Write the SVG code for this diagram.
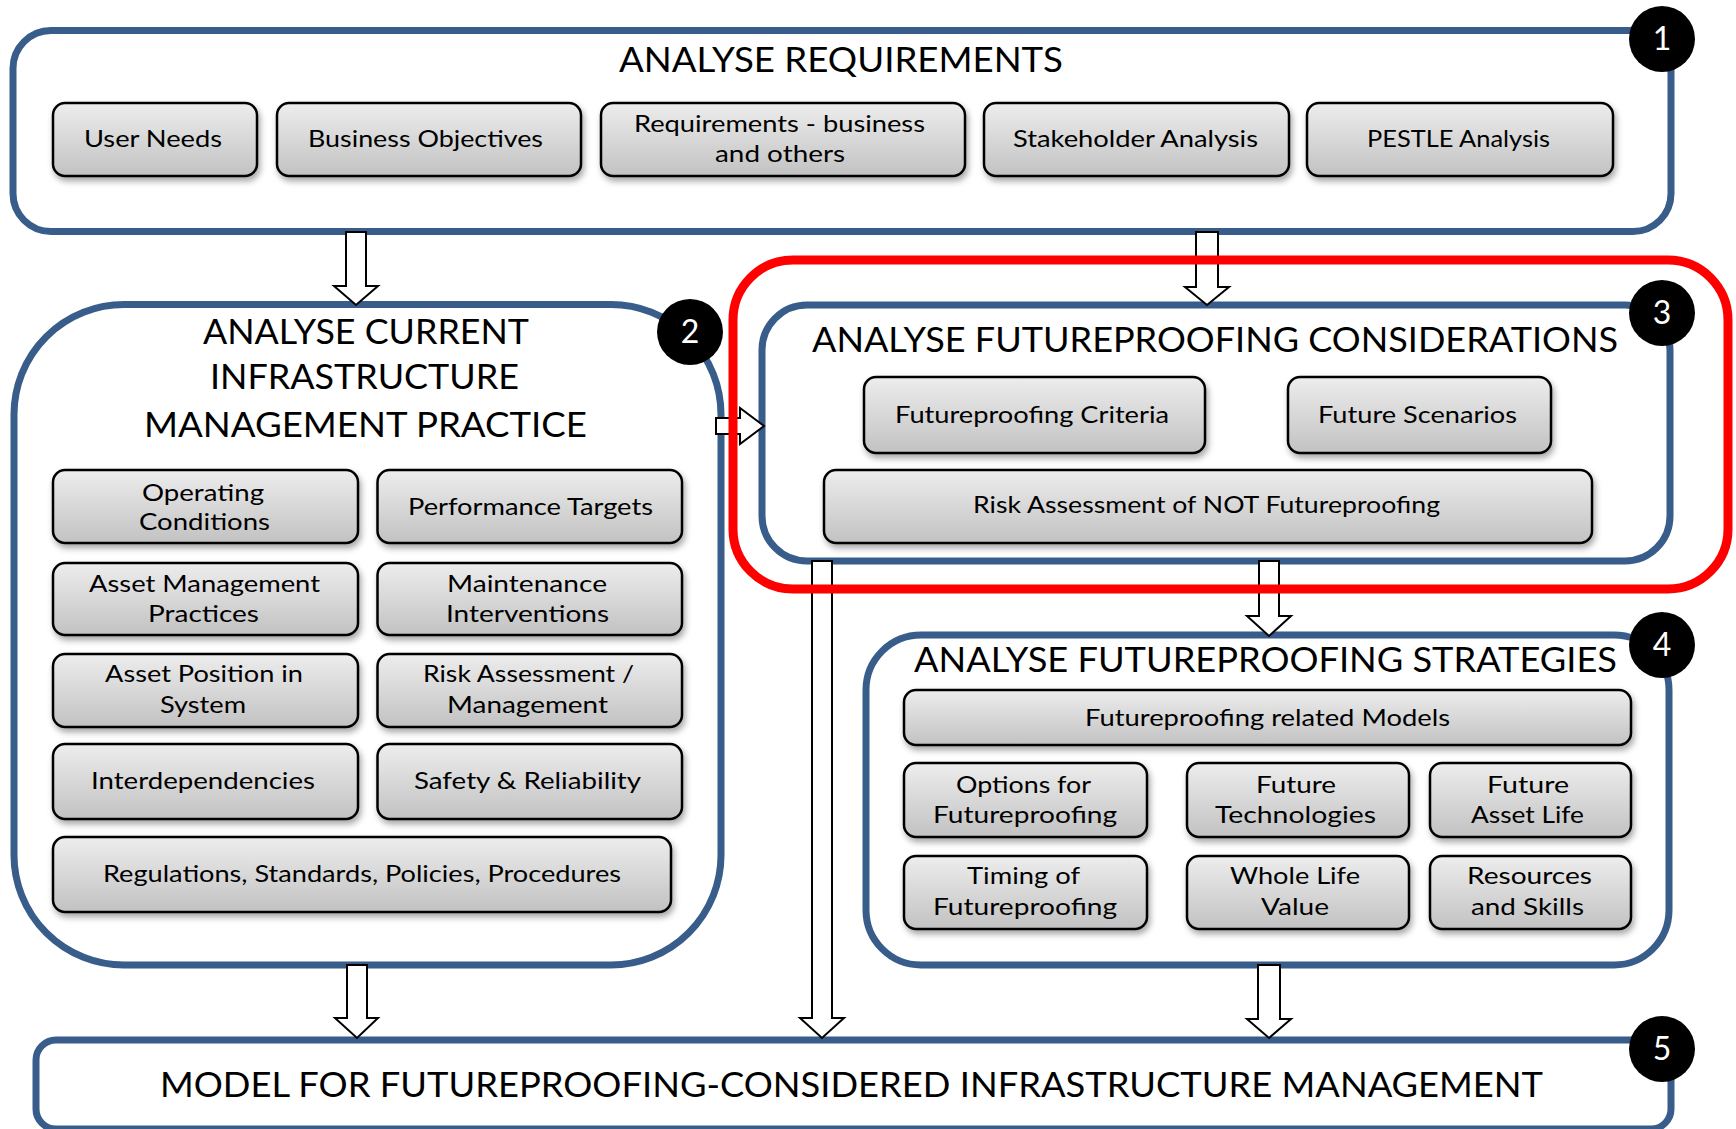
<svg xmlns="http://www.w3.org/2000/svg" width="1736" height="1129" viewBox="0 0 1736 1129">
  <defs>
    <linearGradient id="boxFill" x1="0" y1="0" x2="0" y2="1">
      <stop offset="0" stop-color="#ededed"/>
      <stop offset="1" stop-color="#c2c2c2"/>
    </linearGradient>
    <filter id="shadow" x="-10%" y="-20%" width="120%" height="160%">
      <feDropShadow dx="2" dy="4" stdDeviation="3" flood-color="#000" flood-opacity="0.35"/>
    </filter>
    <style>
      .panel { fill: #fff; stroke: #385d8a; stroke-width: 7; }
      .focus { fill: none; stroke: #ff0000; stroke-width: 9; }
      .box { fill: url(#boxFill); stroke: #000; stroke-width: 2.5; filter: url(#shadow); }
      .arrow { fill: #fff; stroke: #000; stroke-width: 2; stroke-linejoin: miter; }
      .badge { fill: #000; }
      .num { fill: #fff; font-family: Lato, "Liberation Sans", Arial, sans-serif; font-size: 32px; text-anchor: middle; }
      .title { fill: #000; font-family: Lato, "Liberation Sans", Arial, sans-serif; font-size: 35px; }
      .label { fill: #000; font-family: Lato, "Liberation Sans", Arial, sans-serif; font-size: 24px; }
    </style>
  </defs>

  <!-- stage containers -->
  <g id="stage1">
    <rect class="panel" x="13" y="30.5" width="1658" height="201" rx="38"/>
    <text class="title" x="619" y="72" textLength="444" lengthAdjust="spacingAndGlyphs">ANALYSE REQUIREMENTS</text>
  </g>
  <g id="stage2">
    <rect class="panel" x="14" y="304.5" width="707" height="660.5" rx="110"/>
    <text class="title" x="203" y="344" textLength="326" lengthAdjust="spacingAndGlyphs">ANALYSE CURRENT</text>
    <text class="title" x="210" y="389" textLength="309" lengthAdjust="spacingAndGlyphs">INFRASTRUCTURE</text>
    <text class="title" x="144" y="437" textLength="443" lengthAdjust="spacingAndGlyphs">MANAGEMENT PRACTICE</text>
  </g>
  <g id="stage3">
    <rect class="panel" x="762" y="305" width="908" height="256" rx="45"/>
    <text class="title" x="812" y="352" textLength="806" lengthAdjust="spacingAndGlyphs">ANALYSE FUTUREPROOFING CONSIDERATIONS</text>
  </g>
  <g id="stage4">
    <rect class="panel" x="866" y="635" width="803" height="330" rx="55"/>
    <text class="title" x="914" y="672" textLength="703" lengthAdjust="spacingAndGlyphs">ANALYSE FUTUREPROOFING STRATEGIES</text>
  </g>
  <g id="stage5">
    <rect class="panel" x="36" y="1040" width="1635" height="89" rx="20"/>
    <text class="title" x="160" y="1097" textLength="1383" lengthAdjust="spacingAndGlyphs">MODEL FOR FUTUREPROOFING-CONSIDERED INFRASTRUCTURE MANAGEMENT</text>
  </g>

  <!-- stage 1 items -->
  <g id="user-needs">
    <rect class="box" x="53" y="103" width="204" height="73" rx="12"/>
    <text class="label" x="84" y="147" textLength="138" lengthAdjust="spacingAndGlyphs">User Needs</text>
  </g>
  <g id="business-objectives">
    <rect class="box" x="277" y="103" width="304" height="73" rx="12"/>
    <text class="label" x="308" y="147" textLength="235" lengthAdjust="spacingAndGlyphs">Business Objectives</text>
  </g>
  <g id="requirements">
    <rect class="box" x="601" y="103" width="364" height="73" rx="12"/>
    <text class="label" x="634" y="132" textLength="291" lengthAdjust="spacingAndGlyphs">Requirements - business</text>
    <text class="label" x="715" y="162" textLength="130" lengthAdjust="spacingAndGlyphs">and others</text>
  </g>
  <g id="stakeholder-analysis">
    <rect class="box" x="984" y="103" width="305" height="73" rx="12"/>
    <text class="label" x="1013" y="147" textLength="245" lengthAdjust="spacingAndGlyphs">Stakeholder Analysis</text>
  </g>
  <g id="pestle-analysis">
    <rect class="box" x="1307" y="103" width="306" height="73" rx="12"/>
    <text class="label" x="1367" y="147" textLength="183" lengthAdjust="spacingAndGlyphs">PESTLE Analysis</text>
  </g>

  <!-- stage 2 items -->
  <g id="operating-conditions">
    <rect class="box" x="53" y="470" width="305" height="73" rx="12"/>
    <text class="label" x="142" y="501" textLength="122" lengthAdjust="spacingAndGlyphs">Operating</text>
    <text class="label" x="139" y="530" textLength="131" lengthAdjust="spacingAndGlyphs">Conditions</text>
  </g>
  <g id="performance-targets">
    <rect class="box" x="377.5" y="470" width="304.5" height="73" rx="12"/>
    <text class="label" x="408" y="515" textLength="245" lengthAdjust="spacingAndGlyphs">Performance Targets</text>
  </g>
  <g id="am-practices">
    <rect class="box" x="53" y="563" width="305" height="72" rx="12"/>
    <text class="label" x="89" y="592" textLength="231" lengthAdjust="spacingAndGlyphs">Asset Management</text>
    <text class="label" x="148" y="622" textLength="111" lengthAdjust="spacingAndGlyphs">Practices</text>
  </g>
  <g id="maintenance-interventions">
    <rect class="box" x="377.5" y="563" width="304.5" height="72" rx="12"/>
    <text class="label" x="447" y="592" textLength="160" lengthAdjust="spacingAndGlyphs">Maintenance</text>
    <text class="label" x="446" y="622" textLength="163" lengthAdjust="spacingAndGlyphs">Interventions</text>
  </g>
  <g id="asset-position">
    <rect class="box" x="53" y="654" width="305" height="73" rx="12"/>
    <text class="label" x="105" y="682" textLength="198" lengthAdjust="spacingAndGlyphs">Asset Position in</text>
    <text class="label" x="160" y="713" textLength="86" lengthAdjust="spacingAndGlyphs">System</text>
  </g>
  <g id="risk-management">
    <rect class="box" x="377.5" y="654" width="304.5" height="73" rx="12"/>
    <text class="label" x="423" y="682" textLength="211" lengthAdjust="spacingAndGlyphs">Risk Assessment /</text>
    <text class="label" x="447" y="713" textLength="161" lengthAdjust="spacingAndGlyphs">Management</text>
  </g>
  <g id="interdependencies">
    <rect class="box" x="53" y="744" width="305" height="75" rx="12"/>
    <text class="label" x="91" y="789" textLength="224" lengthAdjust="spacingAndGlyphs">Interdependencies</text>
  </g>
  <g id="safety-reliability">
    <rect class="box" x="377.5" y="744" width="304.5" height="75" rx="12"/>
    <text class="label" x="414" y="789" textLength="227" lengthAdjust="spacingAndGlyphs">Safety &amp; Reliability</text>
  </g>
  <g id="regulations">
    <rect class="box" x="53" y="837" width="618" height="75" rx="12"/>
    <text class="label" x="103" y="882" textLength="518" lengthAdjust="spacingAndGlyphs">Regulations, Standards, Policies, Procedures</text>
  </g>

  <!-- stage 3 items -->
  <g id="fp-criteria">
    <rect class="box" x="864" y="377" width="341" height="76" rx="12"/>
    <text class="label" x="895" y="423" textLength="274" lengthAdjust="spacingAndGlyphs">Futureproofing Criteria</text>
  </g>
  <g id="future-scenarios">
    <rect class="box" x="1288" y="377" width="263" height="76" rx="12"/>
    <text class="label" x="1318" y="423" textLength="199" lengthAdjust="spacingAndGlyphs">Future Scenarios</text>
  </g>
  <g id="risk-not-fp">
    <rect class="box" x="824" y="470" width="768" height="73" rx="12"/>
    <text class="label" x="973" y="513" textLength="467" lengthAdjust="spacingAndGlyphs">Risk Assessment of NOT Futureproofing</text>
  </g>

  <!-- stage 4 items -->
  <g id="fp-models">
    <rect class="box" x="904" y="690" width="727" height="55" rx="12"/>
    <text class="label" x="1085" y="726" textLength="365" lengthAdjust="spacingAndGlyphs">Futureproofing related Models</text>
  </g>
  <g id="fp-options">
    <rect class="box" x="904" y="763" width="243" height="74" rx="12"/>
    <text class="label" x="956" y="793" textLength="135" lengthAdjust="spacingAndGlyphs">Options for</text>
    <text class="label" x="933" y="823" textLength="184" lengthAdjust="spacingAndGlyphs">Futureproofing</text>
  </g>
  <g id="future-technologies">
    <rect class="box" x="1187" y="763" width="222" height="74" rx="12"/>
    <text class="label" x="1256" y="793" textLength="80" lengthAdjust="spacingAndGlyphs">Future</text>
    <text class="label" x="1215" y="823" textLength="161" lengthAdjust="spacingAndGlyphs">Technologies</text>
  </g>
  <g id="future-asset-life">
    <rect class="box" x="1430" y="763" width="201" height="74" rx="12"/>
    <text class="label" x="1487" y="793" textLength="82" lengthAdjust="spacingAndGlyphs">Future</text>
    <text class="label" x="1471" y="823" textLength="113" lengthAdjust="spacingAndGlyphs">Asset Life</text>
  </g>
  <g id="fp-timing">
    <rect class="box" x="904" y="856" width="243" height="73" rx="12"/>
    <text class="label" x="967" y="884" textLength="113" lengthAdjust="spacingAndGlyphs">Timing of</text>
    <text class="label" x="933" y="915" textLength="184" lengthAdjust="spacingAndGlyphs">Futureproofing</text>
  </g>
  <g id="whole-life-value">
    <rect class="box" x="1187" y="856" width="222" height="73" rx="12"/>
    <text class="label" x="1230" y="884" textLength="130" lengthAdjust="spacingAndGlyphs">Whole Life</text>
    <text class="label" x="1261" y="915" textLength="68" lengthAdjust="spacingAndGlyphs">Value</text>
  </g>
  <g id="resources-skills">
    <rect class="box" x="1430" y="856" width="201" height="73" rx="12"/>
    <text class="label" x="1467" y="884" textLength="125" lengthAdjust="spacingAndGlyphs">Resources</text>
    <text class="label" x="1471" y="915" textLength="113" lengthAdjust="spacingAndGlyphs">and Skills</text>
  </g>

  <!-- block-arrow connectors -->
  <g id="connectors">
    <polygon class="arrow" points="346,232 366,232 366,286 378,286 356,305 334,286 346,286"/>
    <polygon class="arrow" points="1196,232 1218,232 1218,287 1229,287 1207,305 1185,287 1196,287"/>
    <polygon class="arrow" points="716,418 740,418 740,408 764,426 740,444 740,434 716,434"/>
    <polygon class="arrow" points="1259,561 1279,561 1279,616 1291,616 1269,636 1247,616 1259,616"/>
    <polygon class="arrow" points="812,561 832,561 832,1018 844,1018 822,1038 800,1018 812,1018"/>
    <polygon class="arrow" points="347,965 367,965 367,1018 378,1018 357,1038 335,1018 347,1018"/>
    <polygon class="arrow" points="1258,965 1280,965 1280,1019 1291,1019 1269,1038 1247,1019 1258,1019"/>
  </g>

  <!-- highlight around stage 3 -->
  <rect id="focus-frame" class="focus" x="733" y="260" width="995" height="329" rx="60"/>

  <!-- stage numbers -->
  <g id="badges">
    <circle class="badge" cx="1662" cy="39" r="33"/>
    <text class="num" x="1662" y="50">1</text>
    <circle class="badge" cx="690" cy="332" r="33"/>
    <text class="num" x="690" y="343">2</text>
    <circle class="badge" cx="1662" cy="313" r="33"/>
    <text class="num" x="1662" y="324">3</text>
    <circle class="badge" cx="1662" cy="645" r="33"/>
    <text class="num" x="1662" y="656">4</text>
    <circle class="badge" cx="1662" cy="1049" r="33"/>
    <text class="num" x="1662" y="1060">5</text>
  </g>
</svg>
